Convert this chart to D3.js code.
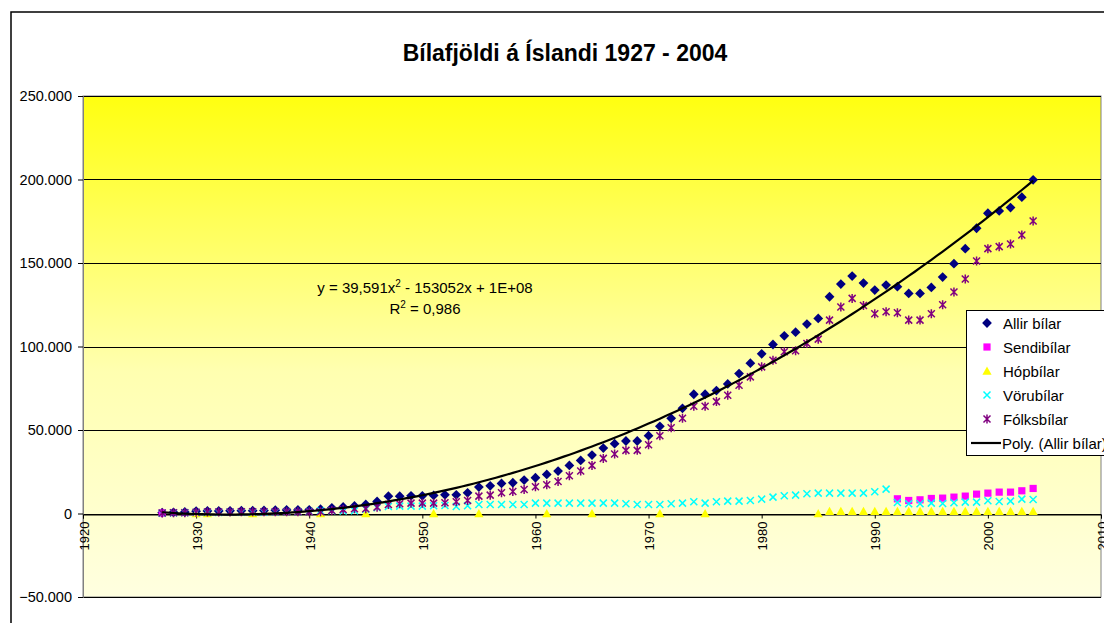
<!DOCTYPE html>
<html>
<head>
<meta charset="utf-8">
<script src="https://cdn.jsdelivr.net/npm/d3@7"></script>
<style>
  body { margin: 0; background: #fff; }
  svg { display: block; font-family: Arial, "Liberation Sans", sans-serif; }
</style>
</head>
<body>
<div id="chart"></div>
<script>
var w = 1104,
    h = 623;

// years 1927 - 2004
var years = d3.range(1927, 2005);

var allir = [500, 700, 900, 1400, 1500, 1500, 1600, 1700, 1700, 1800,
    2000, 2100, 2100, 2200, 2600, 3400, 3900, 4500, 5400, 7200,
    10400, 10400, 10600, 10600, 10800, 11200, 11200, 12400, 15800, 16600,
    18000, 18400, 20000, 21400, 23400, 25400, 28800, 31800, 35000, 39200,
    41800, 43400, 43400, 46600, 52200, 57000, 63000, 71400, 71400, 73600,
    77600, 83800, 90000, 95600, 101200, 106400, 108600, 113400, 116800, 129800,
    137400, 142200, 138000, 133800, 136800, 135800, 131800, 131800, 135400, 141600,
    149600, 158600, 170800, 179800, 181200, 183200, 189400, 199800];

var sendi = [300, null, null, null, null, null, null, null, null, null,
    null, null, null, null, null, null, null, null, null, null,
    null, null, null, null, null, null, null, null, null, null,
    null, null, null, null, null, null, null, null, null, null,
    null, null, null, null, null, null, null, null, null, null,
    null, null, null, null, null, null, null, null, null, null,
    null, null, null, null, null, 8800, 7800, 8200, 9000, 9200,
    9800, 10400, 11600, 12200, 12800, 12800, 13600, 15000];

var hop = [null, null, null, 0, 0, null, null, null, 0, null,
    null, null, null, null, 0, null, null, null, 0, null,
    null, null, null, null, 0, null, null, null, 0, null,
    null, null, null, null, 0, null, null, null, 0, null,
    null, null, null, null, 0, null, null, null, 0, null,
    null, null, null, null, null, null, null, null, 0, 1400,
    1400, 1400, 1400, 1400, 1400, 1400, 1400, 1400, 1400, 1400,
    1400, 1400, 1400, 1400, 1400, 1400, 1400, 1400];

var voru = [200, 300, 400, 600, 600, 600, 700, 700, 700, 800,
    900, 1000, 1000, 1200, 1600, 1600, 1500, 1700, 2600, 3400,
    4200, 4400, 4400, 4400, 4600, 4800, 4200, 4600, 5400, 5400,
    5400, 5400, 5400, 6200, 6200, 6200, 6200, 6200, 6200, 6200,
    6200, 5800, 5400, 5400, 5400, 5800, 6200, 7000, 6200, 7000,
    7400, 7400, 7800, 8600, 9800, 10600, 11000, 11800, 12200, 12200,
    12200, 12200, 12200, 13000, 14600, 6600, 5800, 5800, 6200, 6000,
    6400, 6800, 6800, 7600, 7200, 7400, 8600, 8400];

var folks = [300, 400, 500, 800, 900, 900, 900, 1000, 1000, 1000,
    1100, 1100, 1100, 1000, 1000, 1800, 2400, 2800, 2800, 3800,
    5400, 5800, 6200, 6200, 6200, 6400, 7000, 7800, 10400, 11000,
    12400, 13200, 14400, 16000, 17200, 19200, 22600, 25400, 28800, 33000,
    35600, 37800, 37800, 41200, 46600, 51400, 57000, 64200, 64200, 67000,
    70800, 76800, 81800, 87800, 91800, 96800, 97400, 101800, 104400, 115800,
    123600, 128800, 124600, 119600, 120800, 120200, 115800, 115800, 119600, 125000,
    132600, 140400, 151200, 158600, 159800, 161400, 166800, 175200];

var seriesNames = ["Allir bílar", "Sendibílar", "Hópbílar", "Vörubílar", "Fólksbílar"];
var seriesColors = ["#000080", "#ff00ff", "#ffff00", "#00ffff", "#800080"];
var seriesShapes = ["diamond", "square", "triangle", "cross", "star"];
var seriesValues = [allir, sendi, hop, voru, folks];

var yTicks = [-50000, 0, 50000, 100000, 150000, 200000, 250000];
var xTicks = d3.range(1920, 2011, 10);

var title = "Bílafjöldi á Íslandi 1927 - 2004";

var x = d3.scaleLinear().domain([1920, 2010]).range([83, 1101]);
var y = d3.scaleLinear().domain([-50000, 250000]).range([597, 96]);

var svg = d3.select("#chart").append("svg")
    .attr("width", w)
    .attr("height", h);

var defs = svg.append("defs");
var grad = defs.append("linearGradient")
    .attr("id", "bg")
    .attr("x1", 0).attr("y1", 0).attr("x2", 0).attr("y2", 1);
grad.append("stop").attr("offset", "0%").attr("stop-color", "#ffff10");
grad.append("stop").attr("offset", "55%").attr("stop-color", "#ffffb0");
grad.append("stop").attr("offset", "100%").attr("stop-color", "#ffffe0");

// chart frame
svg.append("rect")
    .attr("x", 11).attr("y", 12)
    .attr("width", 1110).attr("height", 640)
    .attr("fill", "#fff")
    .attr("stroke", "#000")
    .attr("stroke-width", 1.5);

svg.append("text")
    .attr("x", 565)
    .attr("y", 61)
    .attr("text-anchor", "middle")
    .style("font-size", "23px")
    .style("font-weight", "bold")
    .text(title);

// plot area
svg.append("rect")
    .attr("x", x(1920)).attr("y", y(250000))
    .attr("width", x(2010) - x(1920))
    .attr("height", y(-50000) - y(250000))
    .attr("fill", "url(#bg)")
    .attr("stroke", "#808080");

svg.append("g").selectAll("line")
    .data(yTicks)
    .enter().append("line")
    .attr("x1", x(1920)).attr("x2", x(2010))
    .attr("y1", function(d) { return Math.round(y(d)) + 0.5; })
    .attr("y2", function(d) { return Math.round(y(d)) + 0.5; })
    .attr("stroke", "#000");

// y axis
var yAxis = d3.axisLeft(y)
    .tickValues(yTicks)
    .tickSize(5)
    .tickPadding(6)
    .tickFormat(function(d) { return d3.format(",")(d).replace(/,/g, "."); });

svg.append("g")
    .attr("transform", "translate(" + x(1920) + ",0)")
    .call(yAxis)
    .call(function(g) {
        g.selectAll("text").style("font-size", "14.5px").attr("fill", "#000");
        g.select(".domain").attr("stroke", "#808080");
        g.selectAll(".tick line").attr("stroke", "#000");
    });

// x axis along zero
var xAxis = d3.axisBottom(x)
    .tickValues(xTicks)
    .tickSize(4)
    .tickFormat(d3.format("d"));

svg.append("g")
    .attr("transform", "translate(0," + (Math.round(y(0)) + 0.5) + ")")
    .call(xAxis)
    .call(function(g) {
        g.select(".domain").attr("stroke", "#000");
        g.selectAll(".tick line").attr("stroke", "#000");
        g.selectAll("text")
            .style("font-size", "13px")
            .attr("fill", "#000")
            .attr("text-anchor", "end")
            .attr("dy", null)
            .attr("y", 0)
            .attr("transform", "translate(5,7) rotate(-90)");
    });

// marker shapes
function markerPath(shape) {
    if (shape == "diamond") return "M0,-4.9L4.9,0L0,4.9L-4.9,0Z";
    if (shape == "square") return "M-3.6,-3.6H3.6V3.6H-3.6Z";
    if (shape == "triangle") return "M0,-4.5L4.6,3.8L-4.6,3.8Z";
    if (shape == "cross") return "M-3.5,-3.5L3.5,3.5M3.5,-3.5L-3.5,3.5";
    return "M-3.5,-3.5L3.5,3.5M3.5,-3.5L-3.5,3.5M0,-4.5V4.5";
}

function drawMarker(sel, i) {
    var shape = seriesShapes[i];
    var lined = shape == "cross" || shape == "star";
    sel.attr("d", markerPath(shape))
        .attr("fill", lined ? "none" : seriesColors[i])
        .attr("stroke", lined ? seriesColors[i] : "none")
        .attr("stroke-width", lined ? 1.5 : 0);
}

seriesValues.forEach(function(vals, i) {
    var pts = years.map(function(yr, j) { return { year: yr, value: vals[j] }; })
        .filter(function(d) { return d.value !== null; });
    svg.append("g").selectAll("path")
        .data(pts)
        .enter().append("path")
        .attr("transform", function(d) { return "translate(" + x(d.year) + "," + y(d.value) + ")"; })
        .call(drawMarker, i);
});

// polynomial (order 2) trendline fitted to Allir bílar
function fitQuad(xs, ys) {
    var s = [0, 0, 0, 0, 0], t = [0, 0, 0];
    xs.forEach(function(xv, k) {
        for (var p = 0; p < 5; p++) s[p] += Math.pow(xv, p);
        for (var q = 0; q < 3; q++) t[q] += ys[k] * Math.pow(xv, q);
    });
    var m = [[s[0], s[1], s[2], t[0]], [s[1], s[2], s[3], t[1]], [s[2], s[3], s[4], t[2]]];
    for (var c = 0; c < 3; c++) {
        for (var r = c + 1; r < 3; r++) {
            var f = m[r][c] / m[c][c];
            for (var k2 = c; k2 < 4; k2++) m[r][k2] -= f * m[c][k2];
        }
    }
    var b = [0, 0, 0];
    for (var r2 = 2; r2 >= 0; r2--) {
        var sum = m[r2][3];
        for (var c2 = r2 + 1; c2 < 3; c2++) sum -= m[r2][c2] * b[c2];
        b[r2] = sum / m[r2][r2];
    }
    return b;
}

var x0 = 1965;
var coef = fitQuad(years.map(function(d) { return d - x0; }), allir);
var trend = d3.range(1927, 2004.01, 0.5).map(function(yr) {
    var t = yr - x0;
    return { year: yr, value: coef[0] + coef[1] * t + coef[2] * t * t };
});

svg.append("path")
    .datum(trend)
    .attr("fill", "none")
    .attr("stroke", "#000")
    .attr("stroke-width", 2.2)
    .attr("d", d3.line()
        .x(function(d) { return x(d.year); })
        .y(function(d) { return y(d.value); }));

// trendline equation
var eq = svg.append("text")
    .attr("x", 425)
    .attr("y", 293)
    .attr("text-anchor", "middle")
    .style("font-size", "15px");
eq.append("tspan").text("y = 39,591x");
eq.append("tspan").attr("dy", -6).style("font-size", "10px").text("2");
eq.append("tspan").attr("dy", 6).text(" - 153052x + 1E+08");

var r2 = svg.append("text")
    .attr("x", 425)
    .attr("y", 314)
    .attr("text-anchor", "middle")
    .style("font-size", "15px");
r2.append("tspan").text("R");
r2.append("tspan").attr("dy", -6).style("font-size", "10px").text("2");
r2.append("tspan").attr("dy", 6).text(" = 0,986");

// legend
var legend = svg.append("g").attr("transform", "translate(966,310)");
legend.append("rect")
    .attr("x", 0.5).attr("y", 0.5)
    .attr("width", 170).attr("height", 145)
    .attr("fill", "#fff")
    .attr("stroke", "#000");

var legendItems = seriesNames.concat(["Poly. (Allir bílar)"]);
var rows = legend.selectAll(".row")
    .data(legendItems)
    .enter().append("g")
    .attr("class", "row")
    .attr("transform", function(d, i) { return "translate(0," + (13 + i * 24) + ")"; });

rows.each(function(d, i) {
    var g = d3.select(this);
    if (i < 5) {
        g.append("path").attr("transform", "translate(21,0)").call(drawMarker, i);
    } else {
        g.append("line").attr("x1", 5).attr("x2", 35).attr("y1", 0).attr("y2", 0)
            .attr("stroke", "#000").attr("stroke-width", 2.2);
    }
    g.append("text")
        .attr("x", i < 5 ? 37 : 36)
        .attr("y", 5.5)
        .style("font-size", "15px")
        .text(d);
});
</script>
</body>
</html>
